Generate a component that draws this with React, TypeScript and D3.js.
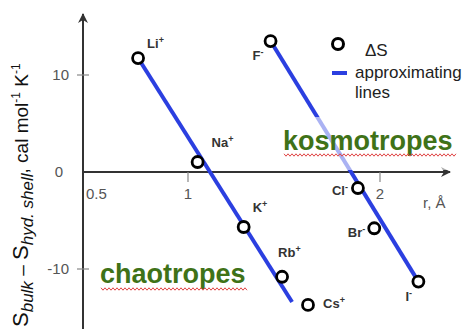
import React from "react";
import * as d3 from "d3";

// Ionic radius (Å) and entropy difference (cal mol⁻¹ K⁻¹)
const cationNames = ["Li", "Na", "K", "Rb", "Cs"];
const cationRadius = [0.74, 1.05, 1.29, 1.49, 1.625];
const cationDS = [11.75, 1.03, -5.67, -10.8, -13.7];

const anionNames = ["F", "Cl", "Br", "I"];
const anionRadius = [1.43, 1.885, 1.97, 2.2];
const anionDS = [13.5, -1.65, -5.8, -11.3];

// Approximating lines: [radius, ΔS] end points
const cationFit = [[0.74, 11.75], [1.542, -13.4]];
const anionFit = [[1.43, 13.5], [2.2, -11.3]];

const xTicks = [0.5, 1, 2];
const yTicks = [10, 0, -10];

const W = 465;
const H = 329;
const FONT = "'Liberation Sans', Arial, sans-serif";
const BLUE = "#2b3fe0";
const GREEN = "#3f7218";

// label placement relative to each point: [dx, dy, anchor]
const labelPlacement: Record<string, [number, number, string]> = {
  Li: [9, -10, "start"],
  Na: [14, -15, "start"],
  K: [9, -15, "start"],
  Rb: [-4, -20, "start"],
  Cs: [15, 3, "start"],
  F: [-18, 19, "start"],
  Cl: [-10, 7, "end"],
  Br: [-9, 9, "end"],
  I: [-13, 19, "start"],
};

function squiggle(x0: number, x1: number, y: number) {
  const pts: [number, number][] = [];
  let up = true;
  for (let x = x0; x <= x1; x += 2) {
    pts.push([x, y + (up ? -1.2 : 1.2)]);
    up = !up;
  }
  return d3.line()(pts) || "";
}

export default function App() {
  const x = d3.scaleLinear().domain([1, 2]).range([188, 380]);
  const y = d3.scaleLinear().domain([0, 10]).range([172, 75]);
  const axisX = 83;
  const axisY = y(0);
  const line = d3
    .line<number[]>()
    .x((d) => x(d[0]))
    .y((d) => y(d[1]));

  const points = [
    ...cationNames.map((n, i) => ({ name: n, sign: "+", r: cationRadius[i], s: cationDS[i] })),
    ...anionNames.map((n, i) => ({ name: n, sign: "-", r: anionRadius[i], s: anionDS[i] })),
  ];

  return (
    <svg width={W} height={H} style={{ position: "absolute", left: 0, top: 0, background: "#fff" }} fontFamily={FONT}>
      <defs>
        <marker id="arrow" viewBox="0 0 10 10" refX="9" refY="5" markerWidth="5" markerHeight="5" orient="auto">
          <path d="M0,0 L10,5 L0,10 L3,5 Z" fill="#333" />
        </marker>
      </defs>

      {/* axes */}
      <line x1={axisX} y1={H} x2={axisX} y2={14} stroke="#333" strokeWidth={2} markerEnd="url(#arrow)" />
      <line x1={axisX} y1={axisY} x2={450} y2={axisY} stroke="#333" strokeWidth={2} markerEnd="url(#arrow)" />

      {/* y ticks */}
      {yTicks.map((t) => (
        <g key={"y" + t}>
          {t !== 0 && <line x1={axisX - 6} x2={axisX + 6} y1={y(t)} y2={y(t)} stroke="#888" strokeWidth={1.2} />}
          <text x={t === 0 ? 63 : 69} y={y(t) + 5} textAnchor="end" fontSize={15} fill="#555">
            {t}
          </text>
        </g>
      ))}

      {/* x ticks */}
      {xTicks.map((t) => {
        const edge = x(t) <= axisX + 10;
        return (
          <g key={"x" + t}>
            {!edge && <line x1={x(t)} x2={x(t)} y1={axisY} y2={axisY + 10} stroke="#888" strokeWidth={1.2} />}
            <text x={edge ? axisX + 3 : x(t)} y={axisY + 27} textAnchor={edge ? "start" : "middle"} fontSize={15} fill="#555">
              {t}
            </text>
          </g>
        );
      })}
      <text x={423} y={208} fontSize={15} fill="#555">r, Å</text>

      {/* y axis title */}
      <text transform="translate(28,327) rotate(-90)" fontSize={19} fill="#111" style={{ whiteSpace: "pre" }}>
        <tspan fontSize={22}>S</tspan>
        <tspan fontSize={17} fontStyle="italic" dy={5}>bulk</tspan>
        <tspan dy={-5}>{" – "}</tspan>
        <tspan fontSize={22}>S</tspan>
        <tspan fontSize={17} fontStyle="italic" dy={5}>hyd. shell</tspan>
        <tspan dy={-5}>{", cal mol"}</tspan>
        <tspan fontSize={12} dy={-8}>-1</tspan>
        <tspan dy={8}>{" K"}</tspan>
        <tspan fontSize={12} dy={-8}>-1</tspan>
      </text>

      {/* approximating lines */}
      <path d={line(cationFit) || ""} stroke={BLUE} strokeWidth={4} fill="none" />
      <path d={line(anionFit) || ""} stroke={BLUE} strokeWidth={4} fill="none" />

      {/* ΔS points */}
      {points.map((p) => (
        <circle key={p.name} cx={x(p.r)} cy={y(p.s)} r={5.5} fill="#fff" stroke="#000" strokeWidth={2.8} />
      ))}
      {points.map((p) => {
        const [dx, dy, anchor] = labelPlacement[p.name];
        return (
          <text key={"l" + p.name} x={x(p.r) + dx} y={y(p.s) + dy} fontSize={13} fontWeight="bold" fill="#333" textAnchor={anchor}>
            {p.name}
            <tspan fontSize={9} dy={-5}>{p.sign}</tspan>
          </text>
        );
      })}

      {/* group captions */}
      <rect x={280} y={117} width={185} height={53} fill="#fff" opacity={0.6} />
      <text x={283} y={150} fontSize={27} fontWeight="bold" fill={GREEN}>kosmotropes</text>
      <path d={squiggle(284, 457, 155)} stroke="#e04545" strokeWidth={1} fill="none" />
      <text x={100} y={283} fontSize={27} fontWeight="bold" fill={GREEN}>chaotropes</text>
      <path d={squiggle(101, 247, 289)} stroke="#e04545" strokeWidth={1} fill="none" />

      {/* legend */}
      <circle cx={338} cy={44} r={5.5} fill="#fff" stroke="#000" strokeWidth={3} />
      <text x={365} y={56} fontSize={17} fill="#222">ΔS</text>
      <line x1={332} x2={347} y1={73} y2={73} stroke={BLUE} strokeWidth={4} />
      <text x={355} y={78} fontSize={17} fill="#222">approximating</text>
      <text x={355} y={98} fontSize={17} fill="#222">lines</text>
    </svg>
  );
}
